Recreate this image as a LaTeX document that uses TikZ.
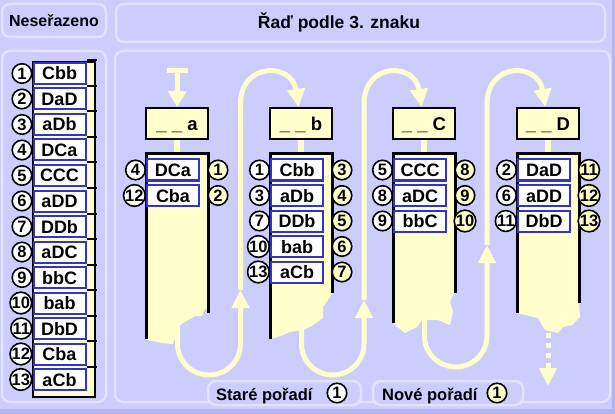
\documentclass[tikz,border=0pt]{standalone}
\usepackage{fontspec}
\setmainfont{Liberation Sans}
\usetikzlibrary{arrows.meta,positioning}
\definecolor{lav}{HTML}{CCCCFF}
\definecolor{rim}{HTML}{E3E3FF}
\definecolor{lavdark}{HTML}{B3B3EE}
\definecolor{lemon}{HTML}{FFFFCC}
\definecolor{slot}{HTML}{3333CC}
\newcommand{\boldsz}[1]{\fontsize{#1}{#1}\selectfont\bfseries}

\begin{document}
\begin{tikzpicture}[x=1pt, y=-1pt,
  panel/.style={draw=rim, line width=2.5pt, rounded corners=8pt, fill=lav},
  word/.style={draw=slot, line width=2pt, fill=white, minimum width=52pt, minimum height=21pt,
    inner sep=0pt, text height=13pt, text depth=0pt, font=\boldsz{18}},
  num/.style={circle, draw, line width=1.6pt, fill=white, minimum size=19.5pt, inner sep=0pt,
    text height=11.5pt, text depth=0pt, font=\boldsz{16.5}},
  newnum/.style={num, fill=lemon},
  head/.style={draw, line width=2pt, fill=lemon, minimum width=62pt, minimum height=31pt,
    inner sep=0pt, text height=19pt, text depth=4pt, font=\boldsz{18.5}},
  wall/.style={line width=3pt},
  flow/.style={draw=lemon, line width=5pt, -{Triangle[length=18pt, width=17pt]}},
  lbl/.style={anchor=base, inner sep=0pt}]
\useasboundingbox (0,0) rectangle (615,414);
\fill[lav] (0,0) rectangle (615,414);
\fill[lavdark] (612,0) rectangle (615,414) (0,409) rectangle (615,414);

% panels
\draw[panel] (2,4) rectangle (106,37);
\draw[panel] (116,4) rectangle (605,42);
\draw[panel] (2,51) rectangle (106,402);
\draw[panel] (115,51) rectangle (610,402);
\node[lbl, font=\boldsz{16}] (unsorted) at (54,27) {Neseřazeno};
\node[lbl, font=\boldsz{17.5}] (title) at (339,29) {Řaď podle 3. znaku};

% unsorted list
\draw[fill=lemon, line width=2pt] (33,62) rectangle (95,397);
\foreach \w [count=\i] in {Cbb,DaD,aDb,DCa,CCC,aDD,DDb,aDC,bbC,bab,DbD,Cba,aCb} {
  \node[word] (u\i) at (59.5,{73.5+(\i-1)*25.5}) {\w};
  \node[num, left=0pt of u\i] (un\i) {\i};
  \draw[line width=2pt] ([yshift=1.5pt]u\i.north east) -- ++(10,0);
}

% buckets, torn at the bottom
\fill[lemon] (146,154) -- (208,154) -- (208,313) -- (205,308) -- (202,316) -- (195,316) -- (180,325)
  -- (173,344) -- (162,343) -- (148,340) -- (146,339) -- cycle;
\fill[lemon] (270,154) -- (332,154) -- (332,293) -- (330,297) -- (323,307) -- (323,318) -- (310,327)
  -- (302,330) -- (290,332) -- (278,337) -- (270,339) -- cycle;
\fill[lemon] (393,154) -- (455,154) -- (455,293) -- (452,297) -- (450,302) -- (453,312) -- (450,325)
  -- (438,320) -- (422,320) -- (417,327) -- (405,333) -- (395,325) -- (393,323) -- cycle;
\fill[lemon] (517,154) -- (579,154) -- (579,303) -- (580,317) -- (572,325) -- (563,327) -- (558,333)
  -- (545,330) -- (538,318) -- (517,313) -- cycle;
\foreach \id/\bx/\lab/\lb/\rb in {a/146/a/339/313, b/270/b/339/293, c/393/C/323/293, d/517/D/313/303} {
  \node[head] (h\id) at (\bx+31,123.5) {\_ \_ \lab};
  \coordinate (t\id) at (\bx+31,154);
  \draw[lemon, line width=6pt] (h\id) -- (t\id);
  \draw[wall] (\bx,\lb) -- (\bx,154) -- (\bx+62,154) -- (\bx+62,\rb);
}
\foreach \bk/\bx/\row/\old/\w/\nw in {a/146/1/4/DCa/1, a/146/2/12/Cba/2,
    b/270/1/1/Cbb/3, b/270/2/3/aDb/4, b/270/3/7/DDb/5, b/270/4/10/bab/6, b/270/5/13/aCb/7,
    c/393/1/5/CCC/8, c/393/2/8/aDC/9, c/393/3/9/bbC/10,
    d/517/1/2/DaD/11, d/517/2/6/aDD/12, d/517/3/11/DbD/13} {
  \node[word, anchor=west] (\bk\row) at (\bx,{170+(\row-1)*25.5}) {\w};
  \node[num, left=0pt of \bk\row] (\bk-o\row) {\old};
  \node[newnum] (\bk-n\row) at (\bx+72,{170+(\row-1)*25.5}) {\nw};
}

% flow of the pass
\coordinate (go) at (177.5,68);
\draw[flow, {Bar[width=21pt]}-{Triangle[length=16pt, width=18pt]}] (go) -- (ha);
\coordinate (sa) at (177.5,322);
\coordinate (ua) at (240.5,290);
\draw[flow] (sa) -- (177.5,344) arc[start angle=180, end angle=360, x radius=31.5pt, y radius=31pt] -- (ua);
\draw[flow] (ua) -- (240.5,104) .. controls (240.5,62) and (292,62) .. (hb);
\coordinate (sb) at (301.5,322);
\coordinate (ub) at (364,300);
\draw[flow] (sb) -- (301.5,344) arc[start angle=180, end angle=360, x radius=31.25pt, y radius=31pt] -- (ub);
\draw[flow] (ub) -- (364,104) .. controls (364,62) and (415,62) .. (hc);
\coordinate (sc) at (424.5,312);
\coordinate (uc) at (487,245);
\draw[flow] (sc) -- (424.5,336) arc[start angle=180, end angle=360, x radius=31.25pt, y radius=31pt] -- (uc);
\draw[flow] (uc) -- (487,104) .. controls (487,62) and (538,62) .. (hd);
\coordinate (sd) at (548,333);
\coordinate (ed) at (548,386);
\draw[flow, dash pattern=on 5pt off 5pt] (sd) -- (ed);

% legend
\draw[panel] (208,381) rectangle (361,405);
\node[lbl, anchor=base west, font=\boldsz{16.5}] (old) at (216,400) {Staré pořadí};
\node[num] (oldn) at (337,393) {1};
\draw[panel] (373,381) rectangle (523,405);
\node[lbl, anchor=base west, font=\boldsz{16.5}] (new) at (382,400) {Nové pořadí};
\node[newnum] (newn) at (497,393) {1};
\end{tikzpicture}
\end{document}
